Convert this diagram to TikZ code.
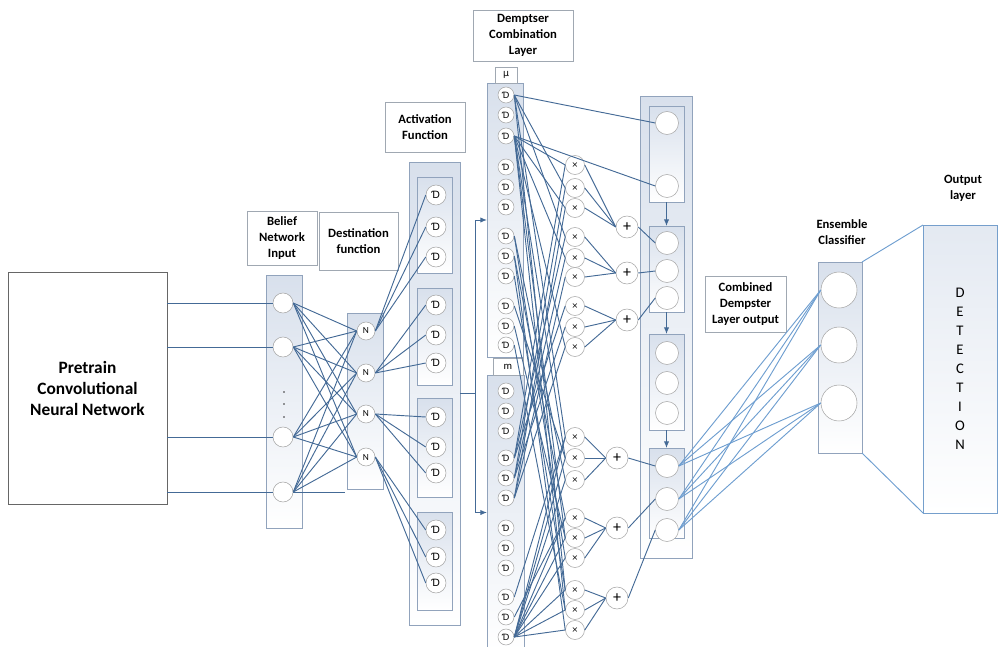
\documentclass[tikz,border=0pt]{standalone}
\usepackage{fontspec}
\setmainfont{Carlito}
\newfontfamily\glyphfont{DejaVu Sans}
\usetikzlibrary{arrows.meta}

\definecolor{linkblue}{RGB}{68,106,150}
\definecolor{paleblue}{RGB}{110,158,208}
\definecolor{frame}{RGB}{145,163,188}
\definecolor{tagframe}{RGB}{160,168,178}
\definecolor{shade}{RGB}{216,224,236}

\newcommand{\dglyph}{{\glyphfont\fontsize{6.5}{7}\selectfont Ɗ}}
\newcommand{\bigdglyph}{{\glyphfont\fontsize{7.5}{8}\selectfont Ɗ}}

\begin{document}
\begin{tikzpicture}[
  x = 0.75pt, y = -0.75pt,
  panel/.style = {draw = frame, top color = shade, bottom color = white,
                  inner sep = 0pt, outer sep = 0pt},
  tag/.style = {draw = tagframe, fill = white, align = center, inner sep = 0pt,
                font = \bfseries\fontsize{9.5}{12}\selectfont},
  note/.style = {align = center, font = \bfseries\fontsize{9.5}{12}\selectfont},
  unit/.style = {circle, draw = black!35, fill = white, inner sep = 0pt},
  inunit/.style = {unit, minimum size = 15pt},
  nunit/.style = {unit, minimum size = 13.5pt, font = \fontsize{7}{8}\selectfont},
  actunit/.style = {unit, minimum size = 15pt},
  dunit/.style = {unit, minimum size = 12pt},
  times/.style = {unit, minimum size = 14.25pt, font = \glyphfont\fontsize{6}{6}\selectfont},
  plus/.style = {unit, minimum size = 16.5pt, font = \fontsize{12}{12}\selectfont},
  cell/.style = {unit, minimum size = 17.25pt},
  bigcell/.style = {unit, minimum size = 27pt},
  link/.style = {draw = linkblue, line width = 0.7pt},
  softlink/.style = {draw = paleblue, line width = 0.7pt},
  tip/.style = {link, -{Latex[length = 5pt, width = 4pt]}},
  ]
  \useasboundingbox (0,0) rectangle (999,646);

  % pretrained network
  \node[draw = black!60, minimum width = 119.25pt, minimum height = 174pt,
        align = center, font = \bfseries\fontsize{13}{15.75}\selectfont]
        (cnn) at (87.5,388) {Pretrain\\Convolutional\\Neural Network};

  % columns
  \node[panel, minimum width = 27pt, minimum height = 189.75pt] (beliefcol) at (284,401.5) {};
  \node[panel, minimum width = 27pt, minimum height = 132pt] (destcol) at (365,401) {};
  \node[panel, minimum width = 38.25pt, minimum height = 347.25pt] (actbox) at (434.5,393.5) {};
  \foreach \top/\bot in {177/273, 288/385, 398/497, 512/610}
    \path[panel] (417,\top) rectangle (452,\bot);
  \node[panel, minimum width = 27pt, minimum height = 205.5pt] (mucol) at (505,220) {};
  \node[panel, minimum width = 27.75pt, minimum height = 206.25pt] (mcol) at (505.5,512.5) {};
  \path[panel] (640,96) rectangle (692,558);
  \node[panel, minimum width = 26.25pt, minimum height = 72pt] (grp1) at (666.5,154) {};
  \node[panel, minimum width = 26.25pt, minimum height = 64.5pt] (grp2) at (666.5,269) {};
  \node[panel, minimum width = 26.25pt, minimum height = 72pt] (grp3) at (666.5,382) {};
  \node[panel, minimum width = 26.25pt, minimum height = 67.5pt] (grp4) at (666.5,493) {};
  \node[panel, minimum width = 33pt, minimum height = 143.25pt] (ensbox) at (840,357.5) {};
  \node[panel, draw = paleblue!80!frame, top color = shade!70, minimum width = 55.5pt,
        minimum height = 216pt, align = center, font = \fontsize{11}{14.25}\selectfont]
        (detbox) at (960,369) {D\\E\\T\\E\\C\\T\\I\\O\\N};

  % labels
  \node[tag, minimum width = 52.5pt, minimum height = 40.5pt] (beliefTag) at (282,238) {Belief\\Network\\Input};
  \node[tag, minimum width = 59.25pt, minimum height = 43.5pt] (destTag) at (358.5,241) {Destination\\function};
  \node[tag, minimum width = 60pt, minimum height = 37.5pt] (actTag) at (425,127) {Activation\\Function};
  \node[tag, minimum width = 75pt, minimum height = 38.25pt] (dempTag) at (523,35.5) {Demptser\\Combination\\Layer};
  \node[tag, minimum width = 16.5pt, minimum height = 12pt, font = \glyphfont\fontsize{7}{8}\selectfont] (muTag) at (506,75) {µ};
  \node[tag, minimum width = 22.5pt, minimum height = 12.75pt, font = \fontsize{8}{9}\selectfont] (mTag) at (508,366.5) {m};
  \node[tag, minimum width = 60.75pt, minimum height = 42pt] (combTag) at (745.5,304) {Combined\\Dempster\\Layer output};
  \node[note] (ensTag) at (842,232) {Ensemble\\Classifier};
  \node[note] (outTag) at (963,188) {Output\\layer};

  % units
  \foreach \y [count=\i] in {303,347,437,492}
    \node[inunit] (b\i) at (283,\y) {};
  \foreach \y in {392,404,417}
    \node[circle, fill = black!80, inner sep = 0.5pt] at (284,\y) {};
  \foreach \y [count=\i] in {331,373,414,457}
    \node[nunit] (n\i) at (366,\y) {N};
  \foreach \y [count=\i] in {195,227,257,305,335,363,417,447,473,530,557,583}
    \node[actunit] (a\i) at (436,\y) {\bigdglyph};
  \foreach \y [count=\i] in {95,115,136,167,187,207,236,256,276,306,326,345}
    \node[dunit] (u\i) at (506,\y) {\dglyph};
  \foreach \y [count=\i] in {391,411,431,458,478,498,528,548,568,597,617,637}
    \node[dunit] (l\i) at (506,\y) {\dglyph};
  \foreach \y [count=\i] in {165,188,208,237,258,277,306,327,347,437,458,480,518,538,558,590,610,630}
    \node[times] (p\i) at (575,\y) {×};
  \foreach \x/\y [count=\i] in {627/227, 627/273, 627/320, 617/458, 617/528, 617/598}
    \node[plus] (s\i) at (\x,\y) {+};
  \foreach \y [count=\i] in {123,186,243,271,298,353,383,413,466,499,530}
    \node[cell] (c\i) at (667,\y) {};
  \foreach \y [count=\i] in {290,345,403}
    \node[bigcell] (e\i) at (839,\y) {};

  % connectors
  \foreach \i in {1,2,3}
    \draw[link] (cnn.east |- b\i) -- (b\i.west);
  \coordinate (tail) at (345,492);
  \draw[link] (cnn.east |- b4) -- (b4.west);
  \draw[link] (b4.east) -- (tail);
  \foreach \i in {1,...,4}
    \foreach \j in {1,...,4}
      \draw[link] (b\i.east) -- (n\j.west);
  \foreach \i in {1,...,4}
    \foreach \k in {1,2,3} {
      \pgfmathtruncatemacro\a{3*(\i-1)+\k}
      \draw[link] (n\i.east) -- (a\a.west);
    }
  \draw[link] (actbox.east) -- ++(15,0) coordinate (fork);
  \draw[tip] (fork) |- (mucol.west);
  \draw[tip] (fork) |- (mcol.west);

  \foreach \d/\p in {u1/p2, u1/p4, u1/p10, u1/p16, u3/p1, u3/p3, u3/p5, u3/p9,
                     u3/p11, u3/p14, u3/p17, u7/p12, u7/p15, u8/p13, u8/p18,
                     u9/p16, u10/p11, u11/p14, u12/p17,
                     l4/p1, l4/p4, l4/p7, l5/p2, l5/p5, l5/p8, l6/p3, l6/p6, l6/p9,
                     l10/p10, l11/p13}
    \draw[link] (\d.east) -- (\p.west);
  \foreach \p in {10,...,18}
    \draw[link] (l12.east) -- (p\p.west);
  \draw[link] (u1.east) -- (c1.west);
  \draw[link] (u3.east) -- (c2.west);
  \foreach \i in {1,...,6}
    \foreach \k in {1,2,3} {
      \pgfmathtruncatemacro\p{3*(\i-1)+\k}
      \draw[link] (p\p.east) -- (s\i.west);
    }
  \foreach \s/\c in {1/3, 2/4, 3/5, 4/9, 5/10, 6/11}
    \draw[link] (s\s.east) -- (c\c.west);
  \draw[tip] (grp1) -- (grp2);
  \draw[tip] (grp2) -- (grp3);
  \draw[tip] (grp3) -- (grp4);

  \foreach \i in {9,10,11}
    \foreach \j in {1,2,3}
      \draw[softlink] (c\i.east) -- (e\j.west);
  \draw[softlink] (ensbox.north east) -- (detbox.north west);
  \draw[softlink] (ensbox.south east) -- (detbox.south west);
\end{tikzpicture}
\end{document}
